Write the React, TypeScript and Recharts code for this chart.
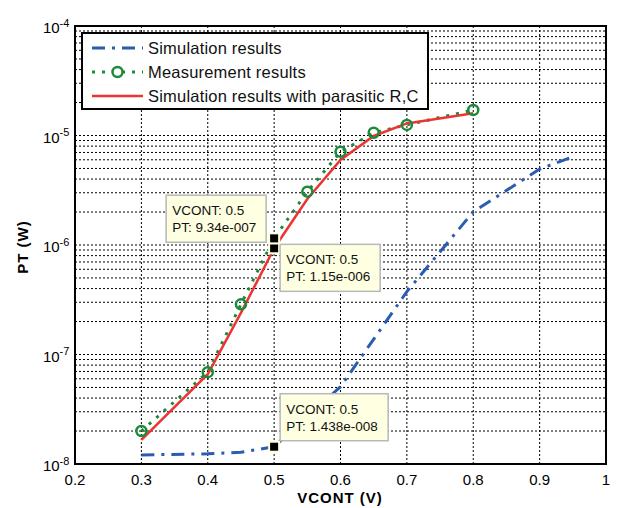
import React from 'react';
import { LineChart, Line, XAxis, YAxis, CartesianGrid, ReferenceDot, ReferenceArea, Legend } from 'recharts';

const FONT = 'Arial, "Liberation Sans", sans-serif';

// Simulation results (blue dash-dot)
const simX = [0.3, 0.4, 0.45, 0.5, 0.6, 0.7, 0.8, 0.9, 0.95];
const simY = [1.21e-8, 1.24e-8, 1.28e-8, 1.438e-8, 5.08e-8, 3.75e-7, 2.01e-6, 4.94e-6, 6.4e-6];
// Measurement results (green dotted with circles)
const measX = [0.3, 0.4, 0.45, 0.5, 0.55, 0.6, 0.65, 0.7, 0.8];
const measY = [2.0e-8, 6.9e-8, 2.87e-7, 1.15e-6, 3.07e-6, 7.1e-6, 1.06e-5, 1.25e-5, 1.71e-5];
// Simulation results with parasitic R,C (red solid)
const parX = [0.3, 0.4, 0.45, 0.5, 0.55, 0.6, 0.65, 0.7, 0.8];
const parY = [1.66e-8, 6.6e-8, 2.4e-7, 9.34e-7, 2.63e-6, 5.97e-6, 9.9e-6, 1.29e-5, 1.6e-5];

const seriesNames = ['Simulation results', 'Measurement results', 'Simulation results with parasitic R,C'];

const xTicks = [0.2, 0.3, 0.4, 0.5, 0.6, 0.7, 0.8, 0.9, 1];
const xTickLabels = ['0.2', '0.3', '0.4', '0.5', '0.6', '0.7', '0.8', '0.9', '1'];
const yTicks = [
  1e-8, 2e-8, 3e-8, 4e-8, 5e-8, 6e-8, 7e-8, 8e-8, 9e-8,
  1e-7, 2e-7, 3e-7, 4e-7, 5e-7, 6e-7, 7e-7, 8e-7, 9e-7,
  1e-6, 2e-6, 3e-6, 4e-6, 5e-6, 6e-6, 7e-6, 8e-6, 9e-6,
  1e-5, 2e-5, 3e-5, 4e-5, 5e-5, 6e-5, 7e-5, 8e-5, 9e-5,
  1e-4,
];
const yMajor = [1e-8, 1e-7, 1e-6, 1e-5, 1e-4];
const yMajorExp = ['-8', '-7', '-6', '-5', '-4'];

// Data tips
const tipX = [0.5, 0.5, 0.5];
const tipY = [9.34e-7, 1.15e-6, 1.438e-8];
const tipLine1 = ['VCONT: 0.5', 'VCONT: 0.5', 'VCONT: 0.5'];
const tipLine2 = ['PT: 9.34e-007', 'PT: 1.15e-006', 'PT: 1.438e-008'];

const toRows = (xs: number[], ys: number[]) => xs.map((x, i) => ({ x, y: ys[i] }));
const simData = toRows(simX, simY);
const measData = toRows(measX, measY);
const parData = toRows(parX, parY);

const BLUE = '#2a5db0';
const GREEN = '#1b8a3a';
const RED = '#ee3333';

const tipPlace = [
  { dx: -108, dy: -53, w: 100 },
  { dx: 6, dy: 6, w: 100 },
  { dx: 6, dy: -53, w: 108 },
];

const isTipPoint = (x: number, y: number) =>
  tipX.some((tx, i) => Math.abs(tx - x) < 1e-9 && Math.abs(tipY[i] - y) / tipY[i] < 1e-6);

const XTick = (props: any) => {
  const { x, payload } = props;
  const idx = xTicks.findIndex((t) => Math.abs(t - payload.value) < 1e-9);
  return (
    <text x={x} y={485} textAnchor="middle" fontSize={15} fontFamily={FONT} fill="#000">
      {idx >= 0 ? xTickLabels[idx] : ''}
    </text>
  );
};

const YTick = (props: any) => {
  const { y, payload } = props;
  const v = payload.value;
  const idx = yMajor.findIndex((m) => Math.abs(m - v) / m < 1e-6);
  if (idx < 0) return <g />;
  return (
    <g>
      <text x={43} y={y + 7} fontSize={15} fontFamily={FONT} fill="#000">10</text>
      <text x={59.5} y={y + 0.5} fontSize={11} fontFamily={FONT} fill="#000">{yMajorExp[idx]}</text>
    </g>
  );
};

const MeasDot = (props: any) => {
  const { cx, cy, payload, index } = props;
  if (payload && isTipPoint(payload.x, payload.y)) return <g key={`md${index}`} />;
  return <circle key={`md${index}`} cx={cx} cy={cy} r={5} fill="none" stroke={GREEN} strokeWidth={2.5} />;
};

const makeTip = (i: number) => (props: any) => {
  const { cx, cy } = props;
  const p = tipPlace[i];
  const bx = cx + p.dx;
  const by = cy + p.dy;
  return (
    <g>
      <rect x={bx} y={by} width={p.w} height={47} fill="#ffffe1" stroke="#b8b8b8" strokeWidth={1.5} />
      <text x={bx + 6} y={by + 20} fontSize={13.5} fontFamily={FONT} fill="#111">{tipLine1[i]}</text>
      <text x={bx + 6} y={by + 37} fontSize={13.5} fontFamily={FONT} fill="#111">{tipLine2[i]}</text>
      <rect x={cx - 6} y={cy - 6} width={12} height={12} fill="#ffffe1" />
      <rect x={cx - 4} y={cy - 4} width={8} height={8} fill="#000" />
    </g>
  );
};

const LegendBox = () => (
  <svg width={348} height={78} style={{ display: 'block' }}>
    <rect x={1} y={1} width={346} height={76} fill="#fff" stroke="#000" strokeWidth={2} />
    <line x1={11} x2={62} y1={16} y2={16} stroke={BLUE} strokeWidth={3} strokeDasharray="13 7 3 7" />
    <line x1={11} x2={62} y1={40} y2={40} stroke={GREEN} strokeWidth={3} strokeDasharray="3 7" />
    <circle cx={36.5} cy={40} r={5} fill="#fff" stroke={GREEN} strokeWidth={2.5} />
    <line x1={11} x2={62} y1={64} y2={64} stroke={RED} strokeWidth={2.5} />
    {seriesNames.map((n, i) => (
      <text key={n} x={67} y={22 + i * 24} fontSize={16.5} letterSpacing={0.2} fontFamily={FONT} fill="#111">{n}</text>
    ))}
  </svg>
);

export default function App() {
  return (
    <div style={{ position: 'absolute', left: 0, top: 0, width: 617, height: 508, background: '#fff' }}>
      <LineChart width={617} height={508} margin={{ top: 26, right: 11, left: 0, bottom: 0 }}>
        <CartesianGrid stroke="#000" strokeDasharray="2 2" strokeWidth={1} />
        <XAxis
          type="number"
          dataKey="x"
          domain={[0.2, 1]}
          ticks={xTicks}
          interval={0}
          allowDataOverflow
          height={44}
          tickLine={false}
          axisLine={false}
          tick={<XTick />}
          label={{
            content: () => (
              <text x={340} y={503} textAnchor="middle" fontSize={15} fontWeight="bold" letterSpacing={1} fontFamily={FONT} fill="#000">
                VCONT (V)
              </text>
            ),
          }}
        />
        <YAxis
          type="number"
          scale="log"
          domain={[1e-8, 1e-4]}
          ticks={yTicks}
          interval={0}
          allowDataOverflow
          width={75}
          tickLine={false}
          axisLine={false}
          tick={<YTick />}
          label={{
            content: () => (
              <text transform="translate(28,247) rotate(-90)" textAnchor="middle" fontSize={15} fontWeight="bold" letterSpacing={1} fontFamily={FONT} fill="#000">
                PT (W)
              </text>
            ),
          }}
        />
        <ReferenceArea x1={0.2} x2={1} y1={1e-8} y2={1e-4} fill="none" stroke="#000" strokeWidth={2} ifOverflow="visible" />
        <Legend
          layout="horizontal"
          verticalAlign="middle"
          align="center"
          content={() => <LegendBox />}
          wrapperStyle={{ position: 'absolute', left: 81, top: 32, width: 348, height: 78 }}
        />
        <Line data={simData} dataKey="y" name={seriesNames[0]} stroke={BLUE} strokeWidth={3} strokeDasharray="13 7 3 7" dot={false} isAnimationActive={false} />
        <Line
          data={measData}
          dataKey="y"
          name={seriesNames[1]}
          stroke={GREEN}
          strokeWidth={3}
          strokeDasharray="3 7"
          dot={<MeasDot />}
          isAnimationActive={false}
        />
        <Line data={parData} dataKey="y" name={seriesNames[2]} stroke={RED} strokeWidth={2.5} dot={false} isAnimationActive={false} />
        {tipX.map((x, i) => (
          <ReferenceDot key={i} x={x} y={tipY[i]} r={4} ifOverflow="visible" shape={makeTip(i)} />
        ))}
      </LineChart>
    </div>
  );
}
